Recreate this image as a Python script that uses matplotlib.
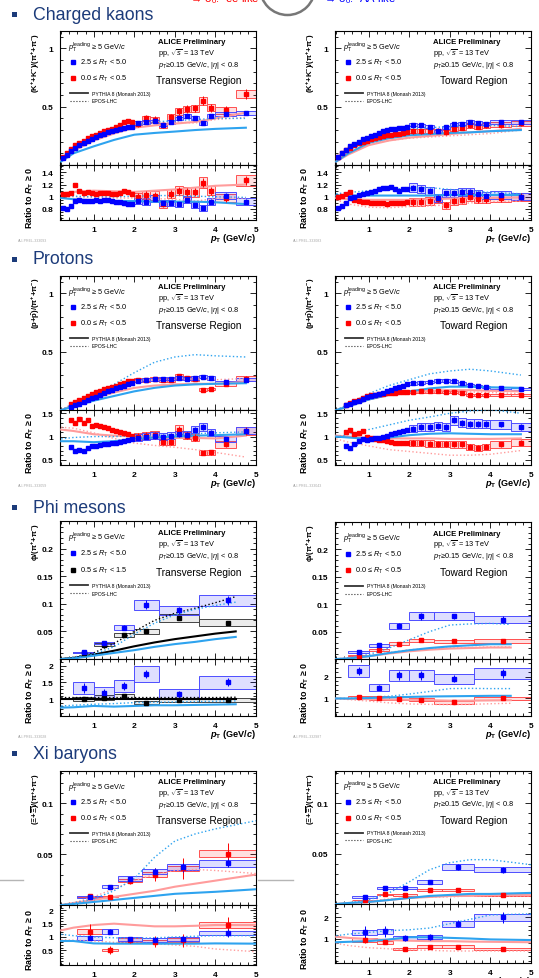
import numpy as np
import matplotlib.pyplot as plt
from matplotlib.patches import Rectangle, Ellipse
from matplotlib.lines import Line2D
from matplotlib.ticker import MultipleLocator

plt.rcParams['font.family'] = ['Liberation Sans', 'DejaVu Sans']
plt.rcParams['mathtext.fontset'] = 'custom'
plt.rcParams['mathtext.rm'] = 'Liberation Sans'
plt.rcParams['mathtext.it'] = 'Liberation Sans:italic'
plt.rcParams['mathtext.bf'] = 'Liberation Sans:bold'
plt.rcParams['mathtext.bfit'] = 'Liberation Sans:italic:bold'
plt.rcParams['mathtext.default'] = 'regular'

# ---------------- data ----------------
# kaons / protons: pT bin edges
kaon_edges = [0.2, 0.3, 0.4, 0.5, 0.6, 0.7, 0.8, 0.9, 1.0, 1.1, 1.2, 1.3, 1.4, 1.5, 1.6, 1.7, 1.8, 1.9, 2.0,
              2.2, 2.4, 2.6, 2.8, 3.0, 3.2, 3.4, 3.6, 3.8, 4.0, 4.5, 5.0]
prot_edges = [0.4, 0.5, 0.6, 0.7, 0.8, 0.9, 1.0, 1.1, 1.2, 1.3, 1.4, 1.5, 1.6, 1.7, 1.8, 1.9, 2.0,
              2.2, 2.4, 2.6, 2.8, 3.0, 3.2, 3.4, 3.6, 3.8, 4.0, 4.5, 5.0]

# charged kaons, transverse region
k_tr_hi = [0.06, 0.09, 0.12, 0.15, 0.17, 0.19, 0.21, 0.225, 0.24, 0.255, 0.265, 0.28, 0.29, 0.30, 0.31, 0.32, 0.325, 0.33,
           0.36, 0.37, 0.375, 0.345, 0.37, 0.40, 0.42, 0.405, 0.36, 0.42, 0.44, 0.445]
k_tr_lo = [0.07, 0.10, 0.14, 0.17, 0.19, 0.21, 0.23, 0.245, 0.26, 0.275, 0.29, 0.30, 0.31, 0.325, 0.34, 0.37, 0.38, 0.37,
           0.355, 0.40, 0.39, 0.34, 0.41, 0.46, 0.48, 0.485, 0.55, 0.49, 0.47, 0.61]
k_tr_hi_r = [0.82, 0.80, 0.85, 0.93, 0.94, 0.93, 0.93, 0.93, 0.94, 0.93, 0.94, 0.94, 0.93, 0.92, 0.91, 0.90, 0.88, 0.89,
             0.93, 0.92, 0.97, 0.90, 0.90, 0.88, 0.95, 0.87, 0.82, 0.92, 1.02, 0.92]
k_tr_lo_r = [1.05, 1.05, 1.07, 1.20, 1.10, 1.07, 1.08, 1.06, 1.05, 1.06, 1.07, 1.06, 1.05, 1.05, 1.07, 1.10, 1.08, 1.05,
             1.00, 1.03, 1.02, 0.88, 1.05, 1.10, 1.08, 1.08, 1.23, 1.10, 0.98, 1.27]
# charged kaons, toward region
k_to_hi = [0.07, 0.10, 0.13, 0.16, 0.18, 0.20, 0.22, 0.235, 0.25, 0.26, 0.275, 0.29, 0.30, 0.31, 0.31, 0.315, 0.32, 0.325,
           0.345, 0.34, 0.33, 0.29, 0.325, 0.35, 0.355, 0.37, 0.36, 0.355, 0.37, 0.368]
k_to_lo = [0.07, 0.10, 0.13, 0.15, 0.17, 0.185, 0.20, 0.21, 0.22, 0.23, 0.24, 0.25, 0.255, 0.26, 0.265, 0.27, 0.275, 0.28,
           0.29, 0.29, 0.29, 0.295, 0.28, 0.31, 0.32, 0.34, 0.33, 0.34, 0.345, 0.36]
k_to_hi_r = [0.82, 0.85, 0.90, 0.98, 1.00, 1.03, 1.05, 1.07, 1.08, 1.10, 1.12, 1.14, 1.15, 1.16, 1.12, 1.10, 1.12, 1.13,
             1.15, 1.13, 1.10, 0.98, 1.06, 1.06, 1.08, 1.08, 1.05, 1.02, 1.03, 1.00]
k_to_lo_r = [1.00, 1.02, 1.05, 1.08, 0.95, 0.93, 0.92, 0.91, 0.90, 0.90, 0.90, 0.90, 0.89, 0.90, 0.90, 0.90, 0.90, 0.91,
             0.91, 0.92, 0.93, 0.97, 0.86, 0.93, 0.95, 1.00, 0.96, 0.96, 0.98, 1.00]

# protons, transverse region
p_tr_hi = [0.03, 0.04, 0.055, 0.07, 0.085, 0.10, 0.115, 0.13, 0.145, 0.16, 0.17, 0.185, 0.20, 0.21, 0.225, 0.235,
           0.25, 0.26, 0.265, 0.27, 0.27, 0.275, 0.27, 0.275, 0.285, 0.275, 0.24, 0.26]
p_tr_lo = [0.05, 0.065, 0.085, 0.10, 0.12, 0.14, 0.155, 0.165, 0.18, 0.19, 0.20, 0.21, 0.225, 0.235, 0.245, 0.25,
           0.255, 0.26, 0.265, 0.255, 0.255, 0.29, 0.275, 0.27, 0.175, 0.18, 0.22, 0.27]
p_tr_hi_r = [0.78, 0.70, 0.72, 0.68, 0.75, 0.80, 0.80, 0.82, 0.83, 0.85, 0.86, 0.87, 0.88, 0.90, 0.92, 0.95,
             0.98, 1.00, 1.02, 1.00, 1.02, 1.05, 1.04, 1.15, 1.20, 1.08, 0.95, 1.13]
p_tr_lo_r = [1.35, 1.30, 1.38, 1.30, 1.35, 1.22, 1.25, 1.22, 1.20, 1.18, 1.15, 1.12, 1.10, 1.07, 1.05, 1.02,
             1.00, 1.02, 1.03, 0.88, 0.88, 1.15, 1.02, 0.98, 0.65, 0.66, 0.83, 1.12]
# protons, toward region
p_to_hi = [0.04, 0.05, 0.065, 0.08, 0.095, 0.11, 0.12, 0.13, 0.14, 0.15, 0.16, 0.175, 0.19, 0.20, 0.21, 0.22,
           0.23, 0.235, 0.24, 0.25, 0.25, 0.245, 0.23, 0.215, 0.205, 0.20, 0.19, 0.18]
p_to_lo = [0.045, 0.06, 0.075, 0.09, 0.105, 0.12, 0.125, 0.13, 0.135, 0.14, 0.145, 0.15, 0.15, 0.155, 0.155, 0.155,
           0.155, 0.16, 0.16, 0.16, 0.155, 0.155, 0.15, 0.13, 0.13, 0.13, 0.13, 0.13]
p_to_hi_r = [0.80, 0.75, 0.85, 0.90, 0.95, 0.92, 0.95, 0.97, 0.98, 1.00, 1.02, 1.05, 1.08, 1.10, 1.12, 1.14,
             1.17, 1.20, 1.20, 1.22, 1.20, 1.35, 1.30, 1.28, 1.28, 1.27, 1.26, 1.20]
p_to_lo_r = [1.10, 1.15, 1.05, 1.08, 1.12, 1.00, 0.97, 0.95, 0.93, 0.92, 0.90, 0.88, 0.87, 0.87, 0.86, 0.86,
             0.86, 0.86, 0.85, 0.84, 0.84, 0.83, 0.83, 0.78, 0.76, 0.78, 0.83, 0.87]

# model curves for kaons / protons (PYTHIA solid, EPOS dotted)
kp_knots = [0.2, 0.5, 1.0, 1.5, 2.0, 2.5, 3.0, 3.5, 4.0, 4.75]
k_tr_py_hi = [0.03, 0.10, 0.16, 0.215, 0.26, 0.275, 0.287, 0.30, 0.31, 0.32]
k_tr_py_lo = [0.04, 0.12, 0.21, 0.27, 0.32, 0.34, 0.355, 0.37, 0.40, 0.45]
k_tr_ep_hi = [0.05, 0.14, 0.23, 0.30, 0.34, 0.37, 0.38, 0.39, 0.40, 0.40]
k_tr_ep_lo = [0.05, 0.14, 0.23, 0.30, 0.34, 0.36, 0.37, 0.36, 0.39, 0.41]
k_tr_py_hi_r = [0.98, 0.96, 0.94, 0.93, 0.93, 0.92, 0.92, 0.92, 0.91, 0.88]
k_tr_py_lo_r = [1.05, 1.08, 1.10, 1.09, 1.08, 1.10, 1.12, 1.15, 1.18, 1.20]
k_tr_ep_hi_r = [1.02, 1.01, 1.00, 1.00, 1.01, 1.02, 1.02, 1.01, 1.00, 0.99]
k_tr_ep_lo_r = [1.00, 1.00, 0.99, 0.98, 0.98, 0.97, 0.96, 0.93, 0.97, 0.98]
k_to_py_hi = [0.03, 0.10, 0.19, 0.23, 0.255, 0.265, 0.275, 0.28, 0.29, 0.30]
k_to_py_lo = [0.03, 0.09, 0.17, 0.21, 0.235, 0.25, 0.265, 0.28, 0.29, 0.31]
k_to_ep_hi = [0.05, 0.14, 0.24, 0.29, 0.31, 0.32, 0.33, 0.335, 0.34, 0.33]
k_to_ep_lo = [0.04, 0.11, 0.18, 0.21, 0.23, 0.24, 0.25, 0.26, 0.27, 0.30]
k_to_py_hi_r = [1.02, 1.02, 1.02, 1.02, 1.02, 1.02, 1.03, 1.03, 1.03, 1.03]
k_to_py_lo_r = [0.98, 0.96, 0.95, 0.95, 0.95, 0.96, 0.97, 0.98, 0.98, 0.99]
k_to_ep_hi_r = [1.05, 1.07, 1.10, 1.12, 1.14, 1.15, 1.12, 1.10, 1.07, 1.05]
k_to_ep_lo_r = [0.95, 0.88, 0.83, 0.82, 0.84, 0.85, 0.87, 0.90, 0.92, 0.93]
p_tr_py_hi = [0.0, 0.03, 0.08, 0.12, 0.16, 0.19, 0.21, 0.22, 0.225, 0.23]
p_tr_py_lo = [0.0, 0.04, 0.10, 0.15, 0.19, 0.21, 0.22, 0.225, 0.225, 0.24]
p_tr_ep_hi = [0.0, 0.05, 0.14, 0.22, 0.32, 0.41, 0.455, 0.475, 0.465, 0.455]
p_tr_ep_lo = [0.0, 0.06, 0.15, 0.21, 0.25, 0.26, 0.27, 0.265, 0.26, 0.27]
p_tr_py_hi_r = [0.90, 0.90, 0.88, 0.90, 0.95, 0.98, 1.00, 1.02, 1.03, 1.05]
p_tr_py_lo_r = [1.15, 1.12, 1.05, 1.02, 1.00, 0.98, 0.97, 0.97, 0.96, 1.02]
p_tr_ep_hi_r = [0.95, 0.98, 1.00, 1.00, 1.01, 1.02, 1.04, 1.06, 1.08, 1.10]
p_tr_ep_lo_r = [1.20, 1.18, 1.08, 0.96, 0.86, 0.81, 0.77, 0.72, 0.66, 0.56]
p_to_py_hi = [0.0, 0.03, 0.09, 0.13, 0.16, 0.185, 0.20, 0.20, 0.195, 0.19]
p_to_py_lo = [0.0, 0.03, 0.09, 0.13, 0.15, 0.165, 0.17, 0.17, 0.165, 0.16]
p_to_ep_hi = [0.0, 0.05, 0.14, 0.21, 0.26, 0.31, 0.335, 0.35, 0.335, 0.30]
p_to_ep_lo = [0.0, 0.04, 0.10, 0.13, 0.15, 0.155, 0.155, 0.155, 0.15, 0.14]
p_to_py_hi_r = [1.00, 0.98, 0.95, 0.98, 1.03, 1.06, 1.07, 1.06, 1.05, 1.05]
p_to_py_lo_r = [1.02, 1.00, 0.97, 0.96, 0.96, 0.96, 0.95, 0.95, 0.95, 0.96]
p_to_ep_hi_r = [0.98, 1.05, 1.15, 1.25, 1.35, 1.42, 1.50, 1.55, 1.58, 1.50]
p_to_ep_lo_r = [0.95, 0.88, 0.80, 0.72, 0.68, 0.64, 0.60, 0.60, 0.62, 0.70]

# phi mesons
phi_edges = [0.5, 1.0, 1.5, 2.0, 2.6, 3.6, 5.0]
f_tr_hi = [0.012, 0.029, 0.057, 0.098, 0.088, 0.106]
f_tr_hi_err = [0.002, 0.003, 0.005, 0.008, 0.006, 0.008]
f_tr_mid = [0.011, 0.026, 0.044, 0.050, 0.074, 0.066]
f_tr_mid_err = [0.001, 0.002, 0.002, 0.002, 0.003, 0.003]
f_tr_hi_r = [1.33, 1.20, 1.40, 1.75, 1.15, 1.50]
f_tr_hi_r_err = [0.15, 0.10, 0.12, 0.12, 0.10, 0.12]
f_tr_mid_r = [1.02, 1.05, 1.10, 0.90, 0.98, 0.98]
f_tr_mid_r_err = [0.03, 0.03, 0.03, 0.03, 0.03, 0.04]
f_to_hi = [0.013, 0.025, 0.061, 0.078, 0.078, 0.072]
f_to_hi_err = [0.002, 0.003, 0.004, 0.006, 0.005, 0.006]
f_to_lo = [0.006, 0.016, 0.028, 0.034, 0.032, 0.033]
f_to_lo_err = [0.001, 0.001, 0.002, 0.002, 0.002, 0.002]
f_to_hi_r = [2.25, 1.50, 2.05, 2.05, 1.90, 2.15]
f_to_hi_r_err = [0.20, 0.12, 0.20, 0.20, 0.15, 0.20]
f_to_lo_r = [1.05, 1.02, 0.98, 0.95, 0.82, 1.00]
f_to_lo_r_err = [0.04, 0.03, 0.03, 0.03, 0.03, 0.04]
phi_knots = [0.2, 0.5, 1.0, 1.5, 2.0, 2.5, 3.0, 3.5, 4.0, 4.5]
f_tr_py_mid = [0.0, 0.002, 0.008, 0.015, 0.023, 0.030, 0.036, 0.041, 0.046, 0.050]
f_tr_py_hi = [0.0, 0.001, 0.006, 0.011, 0.016, 0.022, 0.027, 0.031, 0.036, 0.040]
f_tr_ep_mid = [0.0, 0.003, 0.011, 0.028, 0.050, 0.070, 0.083, 0.092, 0.102, 0.113]
f_tr_ep_hi = [0.0, 0.003, 0.009, 0.022, 0.045, 0.065, 0.080, 0.090, 0.097, 0.103]
f_tr_py_mid_r = [1.02, 1.02, 1.02, 1.02, 1.02, 1.02, 1.02, 1.02, 1.02, 1.02]
f_tr_py_hi_r = [0.75, 0.76, 0.80, 0.78, 0.80, 0.82, 0.82, 0.83, 0.84, 0.85]
f_tr_ep_mid_r = [1.05, 1.05, 1.05, 1.05, 1.05, 1.05, 1.05, 1.05, 1.05, 1.06]
f_tr_ep_hi_r = [0.80, 0.82, 0.85, 0.87, 0.90, 0.91, 0.92, 0.93, 0.94, 0.95]
f_to_py_hi = [0.0, 0.001, 0.005, 0.011, 0.016, 0.020, 0.023, 0.025, 0.027, 0.027]
f_to_py_lo = [0.0, 0.001, 0.005, 0.010, 0.014, 0.017, 0.019, 0.020, 0.021, 0.021]
f_to_ep_hi = [0.0, 0.002, 0.008, 0.020, 0.035, 0.050, 0.062, 0.064, 0.065, 0.063]
f_to_ep_lo = [0.0, 0.002, 0.006, 0.012, 0.017, 0.019, 0.020, 0.021, 0.022, 0.022]
f_to_py_hi_r = [1.00, 1.00, 1.02, 1.05, 1.07, 1.09, 1.10, 1.11, 1.12, 1.12]
f_to_py_lo_r = [1.00, 0.98, 0.97, 0.95, 0.94, 0.92, 0.90, 0.90, 0.91, 0.92]
f_to_ep_hi_r = [1.00, 1.00, 1.05, 1.10, 1.20, 1.32, 1.45, 1.46, 1.45, 1.45]
f_to_ep_lo_r = [1.00, 0.95, 0.88, 0.80, 0.75, 0.73, 0.72, 0.73, 0.76, 0.78]

# xi baryons
xi_edges = [0.6, 1.2, 1.6, 2.2, 2.8, 3.6, 5.0]
x_tr_hi = [0.008, 0.0178, 0.026, 0.033, 0.037, 0.041]
x_tr_hi_err = [0.001, 0.0015, 0.002, 0.003, 0.004, 0.004]
x_tr_lo = [0.0085, 0.008, 0.024, 0.030, 0.036, 0.0507]
x_tr_lo_err = [0.002, 0.002, 0.003, 0.006, 0.010, 0.010]
x_tr_hi_r = [0.95, 1.20, 0.93, 0.90, 0.92, 1.15]
x_tr_hi_r_err = [0.08, 0.10, 0.08, 0.08, 0.10, 0.15]
x_tr_lo_r = [1.20, 0.50, 0.88, 0.83, 0.88, 1.45]
x_tr_lo_r_err = [0.30, 0.15, 0.12, 0.20, 0.25, 0.30]
x_to_hi = [0.007, 0.016, 0.016, 0.022, 0.037, 0.034]
x_to_hi_err = [0.001, 0.0015, 0.0015, 0.002, 0.003, 0.003]
x_to_lo = [0.004, 0.0095, 0.009, 0.0135, 0.014, 0.009]
x_to_lo_err = [0.0005, 0.0008, 0.0008, 0.001, 0.001, 0.001]
x_to_hi_r = [1.30, 1.35, 1.05, 1.10, 1.70, 2.00]
x_to_hi_r_err = [0.30, 0.25, 0.15, 0.15, 0.15, 0.25]
x_to_lo_r = [0.95, 0.85, 0.55, 0.65, 0.65, 0.55]
x_to_lo_r_err = [0.15, 0.08, 0.05, 0.05, 0.05, 0.05]
xi_knots = [0.2, 0.5, 1.0, 1.5, 2.0, 2.5, 3.0, 3.5, 4.0, 5.0]
x_tr_py_hi = [0.0, 0.001, 0.003, 0.005, 0.007, 0.009, 0.011, 0.012, 0.013, 0.0155]
x_tr_py_lo = [0.0, 0.002, 0.005, 0.008, 0.011, 0.014, 0.018, 0.021, 0.024, 0.030]
x_tr_ep_hi = [0.0, 0.002, 0.006, 0.014, 0.026, 0.047, 0.063, 0.070, 0.075, 0.083]
x_tr_ep_lo = [0.0, 0.002, 0.008, 0.016, 0.024, 0.030, 0.034, 0.035, 0.034, 0.031]
x_tr_py_hi_r = [0.85, 0.85, 0.76, 0.75, 0.75, 0.75, 0.75, 0.75, 0.76, 0.75]
x_tr_py_lo_r = [1.25, 1.35, 1.45, 1.50, 1.45, 1.40, 1.40, 1.42, 1.45, 1.45]
x_tr_ep_hi_r = [1.10, 1.05, 1.00, 0.97, 0.95, 0.97, 1.00, 1.03, 1.05, 1.05]
x_tr_ep_lo_r = [0.90, 0.88, 0.85, 0.80, 0.77, 0.75, 0.70, 0.65, 0.55, 0.45]
x_to_py_hi = [0.0, 0.001, 0.002, 0.004, 0.006, 0.008, 0.009, 0.010, 0.010, 0.011]
x_to_py_lo = [0.0, 0.001, 0.002, 0.004, 0.006, 0.007, 0.008, 0.008, 0.009, 0.009]
x_to_ep_hi = [0.0, 0.001, 0.004, 0.011, 0.022, 0.034, 0.041, 0.044, 0.044, 0.039]
x_to_ep_lo = [0.0, 0.001, 0.003, 0.005, 0.006, 0.007, 0.007, 0.008, 0.008, 0.008]
x_to_py_hi_r = [0.85, 0.87, 0.90, 0.98, 1.08, 1.08, 1.05, 1.02, 0.98, 0.95]
x_to_py_lo_r = [1.10, 1.05, 1.00, 0.95, 0.92, 0.90, 0.90, 0.88, 0.87, 0.85]
x_to_ep_hi_r = [1.15, 1.22, 1.30, 1.38, 1.42, 1.50, 1.70, 1.90, 2.10, 2.15]
x_to_ep_lo_r = [0.80, 0.70, 0.60, 0.55, 0.50, 0.48, 0.45, 0.45, 0.45, 0.45]

# ---------------- styling ----------------
W, H = 539, 979
NAVY = '#1c3b7a'
BLUE, RED, BLACK = '#0000ff', '#ff0000', '#000000'
B_EDGE, B_FILL = '#4d4dff', (0.0, 0.0, 1.0, 0.13)
R_EDGE, R_FILL = '#ff5050', (1.0, 0.0, 0.0, 0.12)
K_EDGE, K_FILL = '#444444', (0.0, 0.0, 0.0, 0.08)
M_BLUE, M_PINK = '#2ea3ef', '#ff9c9c'

fig = plt.figure(figsize=(W / 100, H / 100), dpi=100)


def px_axes(x0, x1, y0, y1):
    return fig.add_axes([x0 / W, 1 - y1 / H, (x1 - x0) / W, (y1 - y0) / H])


def style(ax, ylim, yticks, yminor, xlabels):
    ax.set_xlim(0.17, 5.0)
    ax.set_ylim(*ylim)
    ax.set_yticks(yticks, labels=[('%g' % t) for t in yticks], fontweight='bold')
    ax.yaxis.set_minor_locator(MultipleLocator(yminor))
    ax.set_xticks([1, 2, 3, 4, 5], labels=['1', '2', '3', '4', '5'], fontweight='bold')
    ax.xaxis.set_minor_locator(MultipleLocator(0.2))
    ax.tick_params(which='both', direction='in', top=True, right=True, labelsize=6, width=0.6)
    ax.tick_params(which='major', length=4)
    ax.tick_params(which='minor', length=2)
    ax.tick_params(axis='y', pad=5)
    ax.tick_params(axis='x', pad=4)
    if not xlabels:
        ax.tick_params(labelbottom=False)
    for s in ax.spines.values():
        s.set_linewidth(0.8)


def draw_set(ax, edges, y, stat, sys, col, edge, fill, ms=2.6):
    edges = np.asarray(edges, float)
    y = np.asarray(y, float)
    x = 0.5 * (edges[1:] + edges[:-1])
    w = np.diff(edges)
    ax.bar(x, 2 * sys, bottom=y - sys, width=w, facecolor=fill, edgecolor=edge, linewidth=0.7, zorder=2)
    ax.errorbar(x, y, yerr=stat, fmt='s', ms=ms, color=col, mec=col, elinewidth=0.7, capsize=0, zorder=4)


def dense_set(ax, edges, y, col, edge, fill, sys_lo, sys_hi, stat_hi):
    # kaon / proton style: fine bins below 2 GeV/c, wide ones above
    edges = np.asarray(edges, float)
    y = np.asarray(y, float)
    x = 0.5 * (edges[1:] + edges[:-1])
    sys = y * np.where(x < 2, sys_lo, sys_hi)
    stat = y * np.where(x < 2, 0.004, stat_hi)
    draw_set(ax, edges, y, stat, sys, col, edge, fill, ms=2.4)


def models(ax, knots, py_a, ep_a, py_b, ep_b, col_a=M_BLUE, col_b=M_PINK):
    ax.plot(knots, py_b, color=col_b, lw=1.5, zorder=3)
    ax.plot(knots, ep_b, color=col_b, lw=1.0, ls=':', zorder=3)
    ax.plot(knots, py_a, color=col_a, lw=1.5, zorder=3)
    ax.plot(knots, ep_a, color=col_a, lw=1.0, ls=':', zorder=3)


def annotate(ax, region, lo_label, lo_col, toward):
    t = ax.transAxes
    kw = dict(transform=t, va='center', fontsize=5.3)
    ax.text(0.04, 0.885, r'$\mathit{p}_{\mathrm{T}}^{\mathrm{leading}}$ ≥ 5 GeV/$\mathit{c}$', **kw)
    ax.plot([0.065], [0.77], 's', color=BLUE, ms=2.4, transform=t)
    ax.text(0.10, 0.77, r'2.5 ≤ $\mathit{R}_{\mathrm{T}}$ < 5.0', **kw)
    ax.plot([0.065], [0.648], 's', color=lo_col, ms=2.4, transform=t)
    ax.text(0.10, 0.648, lo_label, **kw)
    ax.plot([0.05, 0.145], [0.535, 0.535], color='#333333', lw=1.3, transform=t)
    ax.plot([0.05, 0.145], [0.478, 0.478], color='#333333', lw=0.8, ls=':', transform=t)
    ax.text(0.163, 0.535, 'PYTHIA 8 (Monash 2013)', transform=t, va='center', fontsize=3.7)
    ax.text(0.163, 0.478, 'EPOS-LHC', transform=t, va='center', fontsize=3.7)
    ax.text(0.50, 0.918, 'ALICE Preliminary', transform=t, va='center', fontsize=5.6, fontweight='bold')
    ax.text(0.50, 0.838, r'pp, $\sqrt{\mathit{s}}$ = 13 TeV', **kw)
    ax.text(0.50, 0.752, r'$\mathit{p}_{\mathrm{T}}$≥0.15 GeV/$\mathit{c}$, |$\mathit{\eta}$| < 0.8', **kw)
    ax.text(0.537 if toward else 0.49, 0.632, region, transform=t, va='center', fontsize=7.3)


def make_panel(x0, x1, y0, ys, y1, mlim, mticks, mminor, rlim, rticks, rminor, ylabel, tag):
    am = px_axes(x0, x1, y0, ys)
    ar = px_axes(x0, x1, ys, y1)
    style(am, mlim, mticks, mminor, False)
    style(ar, rlim, rticks, rminor, True)
    fig.text((x0 - 18) / W, 1 - (y0 + 1) / H, ylabel, rotation=90, rotation_mode='anchor',
             ha='right', va='bottom', fontsize=5.6, fontweight='bold')
    fig.text((x0 - 24) / W, 1 - ((ys + y1) / 2 + 4) / H, r'Ratio to $\mathbfit{R}_{\mathbf{T}}$ ≥ 0',
             rotation=90, rotation_mode='anchor', ha='center', va='bottom', fontsize=6.4, fontweight='bold')
    fig.text(x1 / W, 1 - (y1 + 11) / H, r'$\mathbfit{p}_{\mathbf{T}}$ (GeV/$\mathbfit{c}$)',
             ha='right', va='top', fontsize=6.6, fontweight='bold')
    fig.text((x0 - 42) / W, 1 - (y1 + 20) / H, tag, fontsize=2.6, color='#aaaaaa', va='center')
    return am, ar


LO_LBL = r'0.0 ≤ $\mathit{R}_{\mathrm{T}}$ < 0.5'
MID_LBL = r'0.5 ≤ $\mathit{R}_{\mathrm{T}}$ < 1.5'
K_LBL = r'(K$^{+}$+K$^{-}$)/($\pi^{+}$+$\pi^{-}$)'
P_LBL = r'(p+$\bar{p}$)/($\pi^{+}$+$\pi^{-}$)'
F_LBL = r'$\phi$/($\pi^{+}$+$\pi^{-}$)'
X_LBL = r'($\Xi$+$\overline{\Xi}$)/($\pi^{+}$+$\pi^{-}$)'

LX, RX = (60, 256), (335, 531)

# ---- charged kaons ----
for (x0, x1), tag, region, data in [
        (LX, 'ALI-PREL-333093', 'Transverse Region',
         (k_tr_hi, k_tr_lo, k_tr_hi_r, k_tr_lo_r, k_tr_py_hi, k_tr_ep_hi, k_tr_py_lo, k_tr_ep_lo,
          k_tr_py_hi_r, k_tr_ep_hi_r, k_tr_py_lo_r, k_tr_ep_lo_r)),
        (RX, 'ALI-PREL-333083', 'Toward Region',
         (k_to_hi, k_to_lo, k_to_hi_r, k_to_lo_r, k_to_py_hi, k_to_ep_hi, k_to_py_lo, k_to_ep_lo,
          k_to_py_hi_r, k_to_ep_hi_r, k_to_py_lo_r, k_to_ep_lo_r))]:
    am, ar = make_panel(x0, x1, 32, 166, 221, (0, 1.15), [0.5, 1.0], 0.1,
                        (0.62, 1.52), [0.8, 1.0, 1.2, 1.4], 0.05, K_LBL, tag)
    hi, lo, hi_r, lo_r, a1, a2, b1, b2, a1r, a2r, b1r, b2r = data
    dense_set(am, kaon_edges, lo, RED, R_EDGE, R_FILL, 0.03, 0.06, 0.07)
    dense_set(am, kaon_edges, hi, BLUE, B_EDGE, B_FILL, 0.03, 0.04, 0.04)
    models(am, kp_knots, a1, a2, b1, b2)
    dense_set(ar, kaon_edges, lo_r, RED, R_EDGE, R_FILL, 0.015, 0.07, 0.06)
    dense_set(ar, kaon_edges, hi_r, BLUE, B_EDGE, B_FILL, 0.015, 0.06, 0.04)
    models(ar, kp_knots, a1r, a2r, b1r, b2r)
    annotate(am, region, LO_LBL, RED, region.startswith('Toward'))

# ---- protons ----
for (x0, x1), tag, region, data in [
        (LX, 'ALI-PREL-333059', 'Transverse Region',
         (p_tr_hi, p_tr_lo, p_tr_hi_r, p_tr_lo_r, p_tr_py_hi, p_tr_ep_hi, p_tr_py_lo, p_tr_ep_lo,
          p_tr_py_hi_r, p_tr_ep_hi_r, p_tr_py_lo_r, p_tr_ep_lo_r)),
        (RX, 'ALI-PREL-333043', 'Toward Region',
         (p_to_hi, p_to_lo, p_to_hi_r, p_to_lo_r, p_to_py_hi, p_to_ep_hi, p_to_py_lo, p_to_ep_lo,
          p_to_py_hi_r, p_to_ep_hi_r, p_to_py_lo_r, p_to_ep_lo_r))]:
    am, ar = make_panel(x0, x1, 277, 411, 466, (0, 1.15), [0.5, 1.0], 0.1,
                        (0.39, 1.57), [0.5, 1.0, 1.5], 0.1, P_LBL, tag)
    hi, lo, hi_r, lo_r, a1, a2, b1, b2, a1r, a2r, b1r, b2r = data
    dense_set(am, prot_edges, lo, RED, R_EDGE, R_FILL, 0.04, 0.07, 0.07)
    dense_set(am, prot_edges, hi, BLUE, B_EDGE, B_FILL, 0.04, 0.05, 0.04)
    models(am, kp_knots, a1, a2, b1, b2)
    dense_set(ar, prot_edges, lo_r, RED, R_EDGE, R_FILL, 0.03, 0.08, 0.07)
    dense_set(ar, prot_edges, hi_r, BLUE, B_EDGE, B_FILL, 0.03, 0.07, 0.05)
    models(ar, kp_knots, a1r, a2r, b1r, b2r)
    annotate(am, region, LO_LBL, RED, region.startswith('Toward'))

# ---- phi mesons ----
am, ar = make_panel(*LX, 522, 660, 717, (0, 0.25), [0.05, 0.1, 0.15, 0.2], 0.01,
                    (0.5, 2.2), [1.0, 1.5, 2.0], 0.1, F_LBL, 'ALI-PREL-333028')
draw_set(am, phi_edges, f_tr_mid, f_tr_mid_err, 0.09 * np.array(f_tr_mid), BLACK, K_EDGE, K_FILL)
draw_set(am, phi_edges, f_tr_hi, f_tr_hi_err, 0.09 * np.array(f_tr_hi), BLUE, B_EDGE, B_FILL)
models(am, phi_knots, f_tr_py_hi, f_tr_ep_hi, f_tr_py_mid, f_tr_ep_mid, M_BLUE, BLACK)
draw_set(ar, phi_edges, f_tr_mid_r, f_tr_mid_r_err, 0.06 * np.array(f_tr_mid_r), BLACK, K_EDGE, K_FILL)
draw_set(ar, phi_edges, f_tr_hi_r, f_tr_hi_r_err, 0.13 * np.array(f_tr_hi_r), BLUE, B_EDGE, B_FILL)
models(ar, phi_knots, f_tr_py_hi_r, f_tr_ep_hi_r, f_tr_py_mid_r, f_tr_ep_mid_r, M_BLUE, BLACK)
annotate(am, 'Transverse Region', MID_LBL, BLACK, False)

am, ar = make_panel(*RX, 523, 660, 717, (0, 0.25), [0.05, 0.1, 0.15, 0.2], 0.01,
                    (0.2, 2.8), [1.0, 2.0], 0.2, F_LBL, 'ALI-PREL-332987')
draw_set(am, phi_edges, f_to_lo, f_to_lo_err, 0.09 * np.array(f_to_lo), RED, R_EDGE, R_FILL)
draw_set(am, phi_edges, f_to_hi, f_to_hi_err, 0.09 * np.array(f_to_hi), BLUE, B_EDGE, B_FILL)
models(am, phi_knots, f_to_py_hi, f_to_ep_hi, f_to_py_lo, f_to_ep_lo)
draw_set(ar, phi_edges, f_to_lo_r, f_to_lo_r_err, 0.07 * np.array(f_to_lo_r), RED, R_EDGE, R_FILL)
draw_set(ar, phi_edges, f_to_hi_r, f_to_hi_r_err, 0.12 * np.array(f_to_hi_r), BLUE, B_EDGE, B_FILL)
models(ar, phi_knots, f_to_py_hi_r, f_to_ep_hi_r, f_to_py_lo_r, f_to_ep_lo_r)
annotate(am, 'Toward Region', LO_LBL, RED, True)

# ---- xi baryons ----
am, ar = make_panel(*LX, 772, 906, 966, (0, 0.132), [0.05, 0.1], 0.01,
                    (-0.05, 2.2), [0.5, 1.0, 1.5, 2.0], 0.1, X_LBL, '')
draw_set(am, xi_edges, x_tr_lo, x_tr_lo_err, 0.07 * np.array(x_tr_lo), RED, R_EDGE, R_FILL)
draw_set(am, xi_edges, x_tr_hi, x_tr_hi_err, 0.08 * np.array(x_tr_hi), BLUE, B_EDGE, B_FILL)
models(am, xi_knots, x_tr_py_hi, x_tr_ep_hi, x_tr_py_lo, x_tr_ep_lo)
draw_set(ar, xi_edges, x_tr_lo_r, x_tr_lo_r_err, 0.08 * np.array(x_tr_lo_r), RED, R_EDGE, R_FILL)
draw_set(ar, xi_edges, x_tr_hi_r, x_tr_hi_r_err, 0.08 * np.array(x_tr_hi_r), BLUE, B_EDGE, B_FILL)
models(ar, xi_knots, x_tr_py_hi_r, x_tr_ep_hi_r, x_tr_py_lo_r, x_tr_ep_lo_r)
annotate(am, 'Transverse Region', LO_LBL, RED, False)

am, ar = make_panel(*RX, 772, 905, 964, (0, 0.132), [0.05, 0.1], 0.01,
                    (-0.1, 2.6), [1.0, 2.0], 0.2, X_LBL, '')
draw_set(am, xi_edges, x_to_lo, x_to_lo_err, 0.08 * np.array(x_to_lo), RED, R_EDGE, R_FILL)
draw_set(am, xi_edges, x_to_hi, x_to_hi_err, 0.08 * np.array(x_to_hi), BLUE, B_EDGE, B_FILL)
models(am, xi_knots, x_to_py_hi, x_to_ep_hi, x_to_py_lo, x_to_ep_lo)
draw_set(ar, xi_edges, x_to_lo_r, x_to_lo_r_err, 0.08 * np.array(x_to_lo_r), RED, R_EDGE, R_FILL)
draw_set(ar, xi_edges, x_to_hi_r, x_to_hi_r_err, 0.08 * np.array(x_to_hi_r), BLUE, B_EDGE, B_FILL)
models(ar, xi_knots, x_to_py_hi_r, x_to_ep_hi_r, x_to_py_lo_r, x_to_ep_lo_r)
annotate(am, 'Toward Region', LO_LBL, RED, True)

# ---- slide decorations ----
for title, yc in [('Charged kaons', 15.5), ('Protons', 260), ('Phi mesons', 508.5), ('Xi baryons', 754.5)]:
    fig.add_artist(Rectangle((12 / W, 1 - (yc + 2.5) / H), 5 / W, 5 / H, transform=fig.transFigure,
                             color=NAVY, lw=0))
    fig.text(33 / W, 1 - yc / H, title, fontsize=12.8, color=NAVY, va='center')

fig.text(190 / W, 1 + 1 / H, r'→ $\sigma_0$:  ee-like', color='red', fontsize=8, va='center')
fig.text(324 / W, 1 + 1 / H, r'→ $\sigma_0$:  AA-like', color='blue', fontsize=8, va='center')
fig.add_artist(Ellipse((287.5 / W, 1 + 11.5 / H), 55 / W, 55 / H, transform=fig.transFigure,
                       fill=False, ec='#777777', lw=1.8))
fig.add_artist(Line2D([0, 23 / W], [1 - 881 / H] * 2, color='#b5b5b5', lw=1.0))
fig.add_artist(Line2D([258 / W, 293 / W], [1 - 881 / H] * 2, color='#b5b5b5', lw=1.0))

fig.savefig('out.png', dpi=100)
